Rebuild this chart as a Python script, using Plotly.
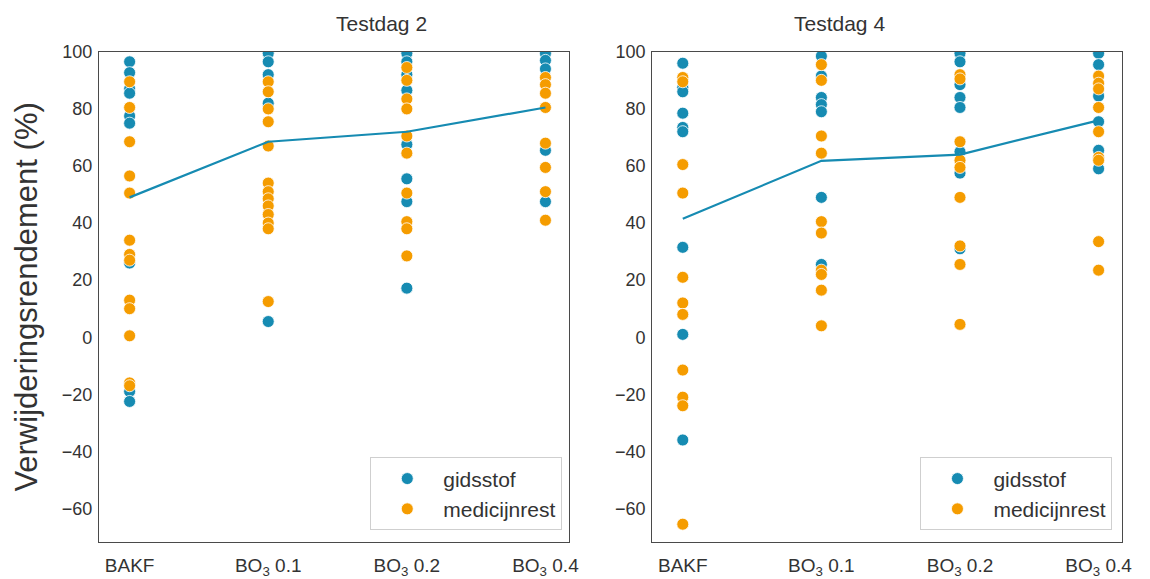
import plotly.graph_objects as go

categories = ["BAKF", "BO<sub>3</sub> 0.1", "BO<sub>3</sub> 0.2", "BO<sub>3</sub> 0.4"]
panel_titles = ["Testdag 2", "Testdag 4"]
series_names = ["gidsstof", "medicijnrest"]

# Testdag 2
d2_gidsstof = [
    [96.5, 92.7, 87, 85.5, 77.5, 75, 26, -19, -22.5],
    [99.5, 96.5, 92, 82, 5.5],
    [99.5, 96.5, 92, 86.5, 67.5, 55.5, 47.5, 17.2],
    [99.5, 97, 94, 65.5, 47.5],
]
d2_medicijnrest = [
    [89.5, 80.5, 68.5, 56.5, 50.5, 34, 29, 27, 13, 10, 0.5, -16, -17],
    [89.5, 86, 80, 75.5, 67, 54, 51, 48.5, 46, 43, 40, 38, 12.5],
    [94.5, 90, 83.5, 80, 70.5, 64.5, 50.5, 40.5, 38, 28.5],
    [91, 88.5, 85.5, 80.5, 68, 59.5, 51, 41],
]
d2_mean = [49, 68.5, 72, 80.5]

# Testdag 4
d4_gidsstof = [
    [96, 87.5, 86, 78.5, 73.5, 72, 31.5, 1, -36],
    [98.5, 91.5, 84, 81.5, 79, 49, 25.5],
    [99.5, 96.5, 88.5, 84, 80.5, 65, 57.5, 31],
    [99.5, 95.5, 84.5, 75.5, 65.5, 59],
]
d4_medicijnrest = [
    [91, 89.5, 60.5, 50.5, 21, 12, 8, -11.5, -21, -24, -65.5],
    [95.5, 90, 70.5, 64.5, 40.5, 36.5, 23.5, 22, 16.5, 4],
    [92, 90.5, 68.5, 62, 59.5, 49, 32, 25.5, 4.5],
    [91.5, 89, 87, 80.5, 72, 63, 62, 33.5, 23.5],
]
d4_mean = [41.5, 61.8, 64, 76]

y_ticks = [100, 80, 60, 40, 20, 0, -20, -40, -60]

BLUE = "#168bb2"
ORANGE = "#f59c00"
TXT = "#333333"
FONT = "Liberation Sans, Arial, sans-serif"
W, H = 1150, 579


def flatten(groups):
    xs, ys = [], []
    for i, vals in enumerate(groups):
        for v in vals:
            xs.append(i)
            ys.append(v)
    return xs, ys


fig = go.Figure()
panels = [
    (d2_gidsstof, d2_medicijnrest, d2_mean, "x", "y", "legend"),
    (d4_gidsstof, d4_medicijnrest, d4_mean, "x2", "y2", "legend2"),
]
for g, m, mean, xa, ya, lg in panels:
    for name, groups, col in [(series_names[0], g, BLUE), (series_names[1], m, ORANGE)]:
        xs, ys = flatten(groups)
        fig.add_trace(go.Scatter(
            x=xs, y=ys, mode="markers", name=name, xaxis=xa, yaxis=ya, legend=lg,
            marker=dict(color=col, size=12, line=dict(color="white", width=0.8)),
            hoverinfo="skip",
        ))
    fig.add_trace(go.Scatter(
        x=list(range(len(categories))), y=mean, mode="lines", xaxis=xa, yaxis=ya,
        line=dict(color=BLUE, width=2.2), showlegend=False, hoverinfo="skip",
    ))

left_dom = [100 / W, 574 / W]
right_dom = [658 / W, 1132 / W]
y_dom = [1 - 547 / H, 1 - 43 / H]

axis_common = dict(
    showgrid=False, zeroline=False, showline=True, mirror=True,
    linecolor="#4a4a4a", linewidth=1.4, ticks="",
)
xcommon = dict(axis_common, range=[-0.22, 3.17], tickmode="array",
               tickvals=list(range(len(categories))), ticktext=categories,
               ticklabelstandoff=6,
               tickfont=dict(family=FONT, size=19, color=TXT))
ycommon = dict(axis_common, range=[-71.7, 100], tickmode="array",
               tickvals=y_ticks, ticktext=[str(t).replace("-", "\u2212") for t in y_ticks],
               ticklabelstandoff=2,
               tickfont=dict(family=FONT, size=18, color=TXT))

legend_common = dict(
    bgcolor="white", bordercolor="#cfcfcf", borderwidth=1.2,
    font=dict(family=FONT, size=21, color=TXT),
    xanchor="right", yanchor="bottom", itemsizing="trace",
    itemwidth=62, tracegroupgap=2,
)

fig.update_layout(
    width=W, height=H, margin=dict(l=0, r=0, t=0, b=0),
    paper_bgcolor="white", plot_bgcolor="white",
    xaxis=dict(xcommon, domain=left_dom, anchor="y"),
    yaxis=dict(ycommon, domain=y_dom, anchor="x"),
    xaxis2=dict(xcommon, domain=right_dom, anchor="y2"),
    yaxis2=dict(ycommon, domain=y_dom, anchor="x2"),
    legend=dict(legend_common, x=567 / W, y=1 - 535 / H),
    legend2=dict(legend_common, x=1122 / W, y=1 - 535 / H),
    annotations=[
        dict(text=panel_titles[0], x=(left_dom[0] + left_dom[1]) / 2, y=1 - 14 / H,
             xref="paper", yref="paper", showarrow=False, yanchor="middle",
             font=dict(family=FONT, size=21, color=TXT)),
        dict(text=panel_titles[1], x=(right_dom[0] + right_dom[1]) / 2, y=1 - 14 / H,
             xref="paper", yref="paper", showarrow=False, yanchor="middle",
             font=dict(family=FONT, size=21, color=TXT)),
        dict(text="Verwijderingsrendement (%)", x=27 / W, y=(y_dom[0] + y_dom[1]) / 2,
             xref="paper", yref="paper", showarrow=False, textangle=-90,
             xanchor="center", yanchor="middle",
             font=dict(family=FONT, size=31, color=TXT)),
    ],
)

fig.write_html("out.html")
